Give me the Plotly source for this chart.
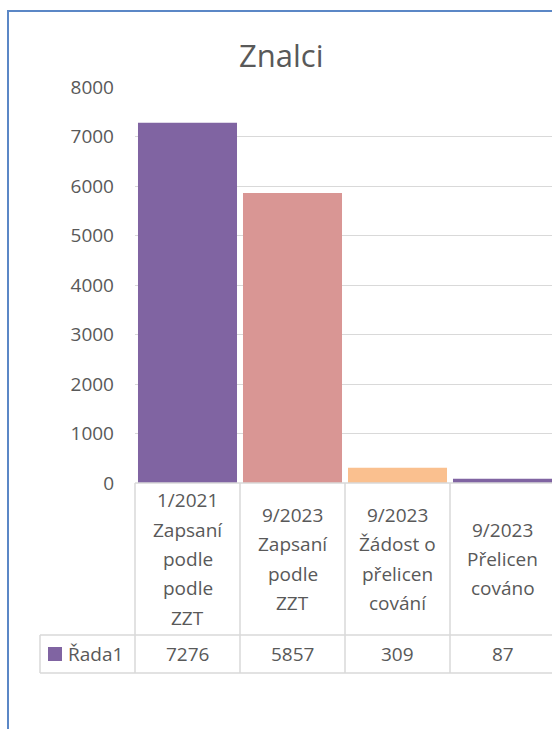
import plotly.graph_objects as go

# ---- data ----
categories = [
    ["1/2021", "Zapsaní", "podle", "podle", "ZZT"],
    ["9/2023", "Zapsaní", "podle", "ZZT"],
    ["9/2023", "Žádost o", "přelicen", "cování"],
    ["9/2023", "Přelicen", "cováno"],
]
values = [7276, 5857, 309, 87]
series_name = "Řada1"
y_ticks = [0, 1000, 2000, 3000, 4000, 5000, 6000, 7000, 8000]
title_text = "Znalci"

# ---- style ----
W, H = 552, 729
bar_colors = ["#8064A2", "#D99694", "#FAC08F", "#8064A2"]
text_color = "#595959"
grid_color = "#D9D9D9"
frame_color = "#5B87C6"
font_family = "Open Sans, Noto Sans, sans-serif"

def px(x):
    return x / W

def py(y):
    return 1 - y / H

plot_left = 135
cat_w = 105
y0_px, y8000_px = 483, 87
n = len(values)
x_range = [-0.5, (W - plot_left) / cat_w - 0.5]

fig = go.Figure()
fig.add_trace(go.Bar(
    x=list(range(n)), y=values, name=series_name,
    marker=dict(color=bar_colors, line=dict(width=0)),
    showlegend=False, hoverinfo="skip",
))

shapes = []
annotations = []

# frame (left + top borders)
shapes.append(dict(type="line", xref="paper", yref="paper", x0=px(8), x1=px(8), y0=py(11), y1=0,
                   line=dict(color=frame_color, width=2)))
shapes.append(dict(type="line", xref="paper", yref="paper", x0=px(7), x1=1, y0=py(11), y1=py(11),
                   line=dict(color=frame_color, width=2)))

# data table lines
row1_bottom, row2_bottom = 635, 673
tl = dict(color=grid_color, width=1.5)
shapes.append(dict(type="line", xref="paper", yref="paper", x0=px(plot_left), x1=1,
                   y0=py(y0_px), y1=py(y0_px), line=tl))
shapes.append(dict(type="line", xref="paper", yref="paper", x0=px(40), x1=1,
                   y0=py(row1_bottom), y1=py(row1_bottom), line=tl))
shapes.append(dict(type="line", xref="paper", yref="paper", x0=px(40), x1=1,
                   y0=py(row2_bottom), y1=py(row2_bottom), line=tl))
shapes.append(dict(type="line", xref="paper", yref="paper", x0=px(40), x1=px(40),
                   y0=py(row1_bottom), y1=py(row2_bottom), line=tl))
for i in range(n):
    xb = plot_left + i * cat_w
    shapes.append(dict(type="line", xref="paper", yref="paper", x0=px(xb), x1=px(xb),
                       y0=py(y0_px), y1=py(row2_bottom), line=tl))

# header labels
center_y, line_sp = 559, 29.4
for i, lines in enumerate(categories):
    m = len(lines)
    for k, t in enumerate(lines):
        yy = center_y + (k - (m - 1) / 2) * line_sp
        annotations.append(dict(x=i, xref="x", y=py(yy), yref="paper", text=t, showarrow=False,
                                xanchor="center", yanchor="middle",
                                font=dict(family=font_family, size=19, color=text_color)))
# values row
for i, v in enumerate(values):
    annotations.append(dict(x=i, xref="x", y=py(654), yref="paper", text=str(v), showarrow=False,
                            xanchor="center", yanchor="middle",
                            font=dict(family=font_family, size=19, color=text_color)))
# legend key
shapes.append(dict(type="rect", xref="paper", yref="paper", x0=px(48), x1=px(62), y0=py(661), y1=py(647),
                   fillcolor=bar_colors[0], line=dict(width=0)))
annotations.append(dict(x=px(66), xref="paper", y=py(654), yref="paper", text=series_name, showarrow=False,
                        xanchor="left", yanchor="middle",
                        font=dict(family=font_family, size=19, color=text_color)))
# title
annotations.append(dict(x=px(281), xref="paper", y=py(55), yref="paper", text=title_text, showarrow=False,
                        xanchor="center", yanchor="middle",
                        font=dict(family=font_family, size=31, color=text_color)))

fig.update_layout(
    width=W, height=H,
    margin=dict(l=0, r=0, t=0, b=0, pad=0, autoexpand=False),
    paper_bgcolor="white", plot_bgcolor="white",
    bargap=0.057, showlegend=False,
    shapes=shapes, annotations=annotations,
    xaxis=dict(domain=[px(plot_left), 1], range=x_range, showticklabels=False, showgrid=False,
               zeroline=False, showline=False, ticks="", automargin=False),
    yaxis=dict(domain=[py(y0_px), py(y8000_px)], range=[0, 8000], tickvals=y_ticks,
               showgrid=True, gridcolor=grid_color, gridwidth=1.2, zeroline=False, showline=False,
               ticks="", ticklabelstandoff=20, automargin=False,
               tickfont=dict(family=font_family, size=19, color=text_color)),
)

fig.write_html("out.html", config={"displayModeBar": False},
               post_script="document.body.style.margin='0';document.body.style.overflow='hidden';")
